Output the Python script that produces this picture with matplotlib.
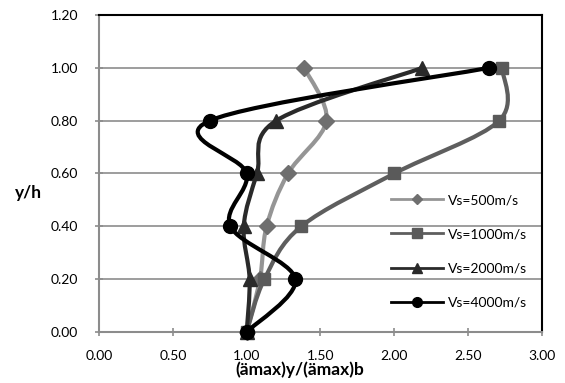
import matplotlib
matplotlib.use('Agg')
import numpy as np
import matplotlib.pyplot as plt
from matplotlib.path import Path
from matplotlib.patches import PathPatch
from matplotlib.lines import Line2D

# y/h levels (bottom to top)
y_levels = [0.0, 0.2, 0.4, 0.6, 0.8, 1.0]

# (amax)y/(amax)b for each shear-wave velocity
vs500 = [1.00, 1.09, 1.135, 1.28, 1.54, 1.39]
vs1000 = [1.00, 1.12, 1.37, 2.00, 2.71, 2.73]
vs2000 = [1.00, 1.02, 0.98, 1.07, 1.20, 2.19]
vs4000 = [1.00, 1.33, 0.89, 1.00, 0.75, 2.64]

labels = ['Vs=500m/s', 'Vs=1000m/s', 'Vs=2000m/s', 'Vs=4000m/s']
xticks = [0.0, 0.5, 1.0, 1.5, 2.0, 2.5, 3.0]
yticks = [0.0, 0.2, 0.4, 0.6, 0.8, 1.0, 1.2]

plt.rcParams['font.family'] = ['Lato', 'DejaVu Sans']


def smooth_path(xs, ys):
    """Catmull-Rom style bezier path through the points (like Excel smoothed lines)"""
    pts = np.column_stack([xs, ys])
    n = len(pts)
    verts = [pts[0]]
    codes = [Path.MOVETO]
    for i in range(n - 1):
        p0 = pts[i - 1] if i > 0 else pts[i]
        p1 = pts[i]
        p2 = pts[i + 1]
        p3 = pts[i + 2] if i + 2 < n else pts[i + 1]
        c1 = p1 + (p2 - p0) / 6.0
        c2 = p2 - (p3 - p1) / 6.0
        verts += [c1, c2, p2]
        codes += [Path.CURVE4] * 3
    return Path(verts, codes)


fig = plt.figure(figsize=(5.65, 3.83), dpi=100)
ax = fig.add_axes([0.1752, 0.1332, 0.7841, 0.8276])

styles = [
    # line color, marker, marker color, marker size, legend marker size
    ('#959595', 'D', '#6f6f6f', 8, 5),
    ('#5e5e5e', 's', '#5a5a5a', 9, 6.5),
    ('#2a2a2a', '^', '#2a2a2a', 10, 7),
    ('#000000', 'o', '#000000', 10, 7),
]
series = [vs500, vs1000, vs2000, vs4000]

handles = []
for k, (vals, (lc, mk, mc, ms, lms)) in enumerate(zip(series, styles)):
    patch = PathPatch(smooth_path(vals, y_levels), facecolor='none', edgecolor=lc,
                      lw=3.0, capstyle='round', joinstyle='round', zorder=3 + k)
    ax.add_patch(patch)
    ax.plot(vals, y_levels, linestyle='none', marker=mk, ms=ms, color=mc,
            markeredgecolor=mc, zorder=3.5 + k, clip_on=False)
    handles.append(Line2D([], [], color=lc, lw=2, marker=mk, ms=lms,
                          markerfacecolor=mc, markeredgecolor=mc))

ax.set_xlim(0, 3.0)
ax.set_ylim(0, 1.2)
ax.set_xticks(xticks)
ax.set_yticks(yticks)
ax.set_xticklabels(['%.2f' % v for v in xticks])
ax.set_yticklabels(['%.2f' % v for v in yticks])
ax.grid(True, axis='y', color='#8c8c8c', lw=1.2, zorder=1)
ax.set_axisbelow(True)

ax.tick_params(axis='both', direction='inout', length=6, width=1.2, color='#8c8c8c',
               labelsize=10, labelcolor='#000000')
ax.tick_params(axis='y', pad=12)
ax.tick_params(axis='x', pad=10)

for side in ['left', 'bottom']:
    ax.spines[side].set_color('#8c8c8c')
    ax.spines[side].set_linewidth(1.5)
for side in ['top', 'right']:
    ax.spines[side].set_color('#000000')
    ax.spines[side].set_linewidth(1.5)

fig.text(28 / 565, 1 - 193 / 383, 'y/h', fontsize=12.5, fontweight='bold',
         ha='center', va='center')
fig.text(300 / 565, 1 - 370 / 383, '(ämax)y/(ämax)b', fontsize=12.5, fontweight='bold',
         ha='center', va='center')

leg = ax.legend(handles, labels, loc='upper left', bbox_to_anchor=(0.66, 0.435),
                frameon=False, fontsize=10, handlelength=3.7, labelspacing=1.6,
                handletextpad=0.4, borderaxespad=0, borderpad=0)

fig.savefig('out.png', dpi=100)
